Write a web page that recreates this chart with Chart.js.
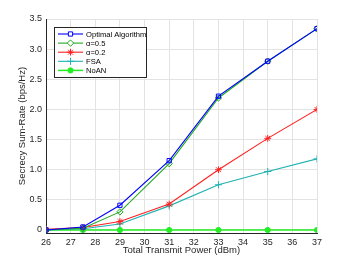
<!DOCTYPE html>
<html lang="en">
<head>
    <meta charset="UTF-8">
    <title>Secrecy Sum-Rate</title>
    <style>
        body { margin: 0; padding: 0; background: #ffffff; }
        #wrap { width: 350px; height: 263px; }
    </style>
</head>
<body>
    <div id="wrap"><canvas id="chart" width="350" height="263"></canvas></div>
    <script src="https://cdn.jsdelivr.net/npm/chart.js"></script>
    <script>
        const powers = [26, 27.5, 29, 31, 33, 35, 37];
        const optimal = [0, 0.05, 0.41, 1.15, 2.22, 2.80, 3.34];
        const alpha05 = [0, 0.03, 0.30, 1.10, 2.19, 2.80, 3.34];
        const alpha02 = [0.01, 0.04, 0.14, 0.43, 1.00, 1.52, 2.00];
        const fsa = [0, 0.02, 0.10, 0.40, 0.75, 0.97, 1.18];
        const noan = [0, 0, 0, 0, 0, 0, 0];
        const xTicks = [26, 27, 28, 29, 30, 31, 32, 33, 34, 35, 36, 37];
        const yTicks = [0, 0.5, 1, 1.5, 2, 2.5, 3, 3.5];

        const series = [
            { label: 'Optimal Algorithm', data: optimal, color: '#0000ff', style: 'rect', fill: false, r: 3 },
            { label: '\u03b1=0.5', data: alpha05, color: '#22aa22', style: 'rectRot', fill: false, r: 3.2 },
            { label: '\u03b1=0.2', data: alpha02, color: '#ff2020', style: 'star', fill: false, r: 3.4 },
            { label: 'FSA', data: fsa, color: '#20b2b2', style: 'cross', fill: false, r: 3.6 },
            { label: 'NoAN', data: noan, color: '#22ee22', style: 'circle', fill: true, r: 2.6 }
        ];

        const datasets = series.map(s => ({
            label: s.label,
            data: powers.map((p, i) => ({ x: p, y: s.data[i] })),
            borderColor: s.color,
            backgroundColor: s.fill ? s.color : 'rgba(0,0,0,0)',
            pointBorderColor: s.color,
            pointBackgroundColor: s.fill ? s.color : 'rgba(0,0,0,0)',
            pointStyle: s.style,
            pointRadius: s.r,
            pointBorderWidth: 1,
            borderWidth: s.fill ? 1.5 : 1.1,
            tension: 0
        }));

        // legend drawn inside the axes, matlab style
        const boxLegend = {
            id: 'boxLegend',
            afterDraw(chart) {
                const ctx = chart.ctx;
                const x0 = 54, y0 = 27, w = 92, h = 50;
                ctx.save();
                ctx.fillStyle = '#ffffff';
                ctx.fillRect(x0, y0, w, h);
                ctx.strokeStyle = '#262626';
                ctx.lineWidth = 1;
                ctx.strokeRect(x0 + 0.5, y0 + 0.5, w, h);
                ctx.font = '7.6px "Liberation Sans", Arial, sans-serif';
                ctx.textBaseline = 'middle';
                series.forEach((s, i) => {
                    const y = 34 + i * 9.1;
                    ctx.strokeStyle = s.color;
                    ctx.lineWidth = s.fill ? 1.5 : 1.1;
                    ctx.beginPath();
                    ctx.moveTo(58, y);
                    ctx.lineTo(83, y);
                    ctx.stroke();
                    ctx.fillStyle = s.fill ? s.color : '#ffffff';
                    ctx.lineWidth = 1;
                    Chart.helpers.drawPoint(ctx, {
                        pointStyle: s.style, radius: s.r, borderWidth: 1
                    }, 70.5, y);
                    ctx.fillStyle = '#000000';
                    ctx.fillText(s.label, 86, y + 0.5);
                });
                ctx.restore();
            }
        };

        new Chart(document.getElementById('chart').getContext('2d'), {
            type: 'line',
            data: { datasets: datasets },
            options: {
                responsive: false,
                animation: false,
                layout: { padding: { top: 19, right: 33, left: 0, bottom: 0 } },
                plugins: { legend: { display: false }, tooltip: { enabled: false } },
                scales: {
                    x: {
                        type: 'linear',
                        min: 26,
                        max: 37,
                        afterBuildTicks: s => { s.ticks = xTicks.map(v => ({ value: v })); },
                        afterFit: s => { s.height = 30; },
                        grid: { color: '#e3e3e3', drawTicks: false, tickLength: 0 },
                        border: { color: '#262626', width: 1 },
                        ticks: {
                            color: '#262626', padding: 4, maxRotation: 0,
                            font: { size: 9, family: '"Liberation Sans", Arial, sans-serif' }
                        },
                        title: {
                            display: true, text: 'Total Transmit Power (dBm)', color: '#262626',
                            padding: { top: 0, bottom: 7 },
                            font: { size: 9.5, family: '"Liberation Sans", Arial, sans-serif' }
                        }
                    },
                    y: {
                        min: -0.05,
                        max: 3.5,
                        afterBuildTicks: s => { s.ticks = yTicks.map(v => ({ value: v })); },
                        afterFit: s => { s.width = 46; },
                        grid: { color: '#e3e3e3', drawTicks: false, tickLength: 0 },
                        border: { color: '#262626', width: 1 },
                        ticks: {
                            color: '#262626', padding: 4,
                            font: { size: 9, family: '"Liberation Sans", Arial, sans-serif' }
                        },
                        title: {
                            display: true, text: 'Secrecy Sum-Rate (bps/Hz)', color: '#262626',
                            padding: { top: 17, bottom: 0 },
                            font: { size: 9.5, family: '"Liberation Sans", Arial, sans-serif' }
                        }
                    }
                }
            },
            plugins: [boxLegend]
        });
    </script>
</body>
</html>
